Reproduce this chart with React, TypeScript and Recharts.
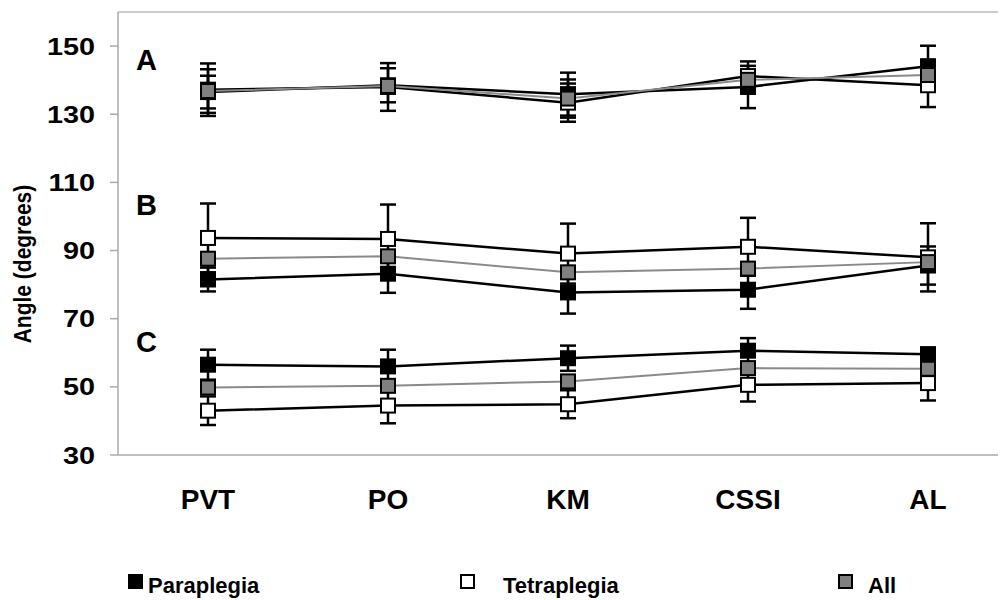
import { LineChart, Line, XAxis, YAxis, ErrorBar, ReferenceLine, ReferenceDot } from 'recharts'

const categories = ['PVT', 'PO', 'KM', 'CSSI', 'AL']

// panel A
const paraA = [136.5, 138.5, 135.9, 138.0, 144.1]
const paraAErr = [4.8, 5.0, 6.3, 6.2, 6.0]
const tetraA = [137.2, 138.0, 133.4, 141.2, 138.5]
const tetraAErr = [7.7, 7.0, 5.6, 4.3, 6.4]
const allA = [136.8, 138.3, 134.6, 140.1, 141.5]
const allAErr = [6.4, 0, 5.6, 0, 0]

// panel B
const paraB = [81.5, 83.2, 77.7, 78.5, 85.6]
const paraBErr = [3.5, 5.6, 6.2, 5.6, 5.6]
const tetraB = [93.7, 93.4, 89.1, 91.1, 88.0]
const tetraBErr = [10.1, 10.1, 8.8, 8.5, 10.0]
const allB = [87.6, 88.3, 83.6, 84.7, 86.6]

// panel C
const paraC = [56.5, 56.0, 58.4, 60.6, 59.6]
const paraCErr = [4.4, 4.9, 3.7, 3.7, 1.8]
const tetraC = [43.0, 44.5, 44.9, 50.6, 51.1]
const tetraCErr = [4.2, 5.2, 4.1, 4.9, 5.1]
const allC = [49.8, 50.3, 51.6, 55.5, 55.3]

const yTicks = [30, 50, 70, 90, 110, 130, 150]
const panelLabels = [{ text: 'A', y: 145.9 }, { text: 'B', y: 103.5 }, { text: 'C', y: 63.2 }]

const rows = categories.map((name, i) => ({
  name,
  paraA: paraA[i], paraAErr: paraAErr[i],
  tetraA: tetraA[i], tetraAErr: tetraAErr[i],
  allA: allA[i], allAErr: allAErr[i],
  paraB: paraB[i], paraBErr: paraBErr[i],
  tetraB: tetraB[i], tetraBErr: tetraBErr[i],
  allB: allB[i],
  paraC: paraC[i], paraCErr: paraCErr[i],
  tetraC: tetraC[i], tetraCErr: tetraCErr[i],
  allC: allC[i]
}))

const font = '"Liberation Sans", Arial, sans-serif'

const series = [
  { key: 'para', fill: '#000', line: '#000', width: 2.5 },
  { key: 'tetra', fill: '#fff', line: '#000', width: 2.5 },
  { key: 'all', fill: '#808080', line: '#8a8a8a', width: 2 }
]

const square = (fill: string) => (p: any) => (
  <rect key={`sq-${p.index}`} x={p.cx - 7} y={p.cy - 7} width={14} height={14} fill={fill} stroke="#000" strokeWidth={2} />
)

// the source picture is a bit stretched sideways, so the y labels are widened
const YTick = (p: any) => (
  <g transform={`translate(${p.x},${p.y}) scale(1.2,1)`}>
    <text x={0} y={0} dy="0.355em" textAnchor="end" fontSize={24} fontWeight="bold" fontFamily={font} fill="#000">
      {p.payload.value}
    </text>
  </g>
)

const legend = [
  { label: 'Paraplegia', fill: '#000', box: 120, text: 140 },
  { label: 'Tetraplegia', fill: '#fff', box: 452, text: 495 },
  { label: 'All', fill: '#808080', box: 830, text: 860 }
]

export default function App () {
  return (
    <div style={{ position: 'relative', width: 998, height: 592, overflow: 'hidden', fontFamily: font }}>
      <LineChart width={1010} height={592} data={rows} margin={{ top: 4, right: 0, bottom: 85, left: 0 }}>
        <XAxis
          dataKey="name"
          padding={{ left: 90, right: 90 }}
          tickLine={false}
          axisLine={{ stroke: '#aaa', strokeWidth: 1.5 }}
          height={60}
          interval={0}
          tickMargin={28}
          tick={{ fontSize: 28, fontWeight: 'bold', fill: '#000', fontFamily: font }}
        />
        <YAxis
          domain={[30, 160]}
          ticks={yTicks}
          width={110}
          tickSize={8}
          tickMargin={15}
          axisLine={{ stroke: '#aaa', strokeWidth: 1.5 }}
          tickLine={{ stroke: '#aaa', strokeWidth: 1.5 }}
          tick={YTick}
          label={{
            content: () => (
              <g transform="translate(15,256) scale(1.15,1) rotate(-90)">
                <text x={0} y={0} textAnchor="middle" dominantBaseline="central"
                  fontSize={21} fontWeight="bold" fontFamily={font} fill="#000">Angle (degrees)</text>
              </g>
            )
          }}
        />
        <ReferenceLine y={160} stroke="#bbb" strokeWidth={1.5} />
        {panelLabels.map(l => (
          <ReferenceDot key={l.text} x="PVT" y={l.y} r={0} stroke="none" fill="none"
            label={{ value: l.text, position: 'left', offset: 51, fontSize: 29, fontWeight: 'bold', fill: '#000', fontFamily: font }} />
        ))}
        {['A', 'B', 'C'].flatMap(g => series.map(s => {
          const key = s.key + g
          const hasErr = (rows[0] as any)[key + 'Err'] !== undefined
          return (
            <Line key={key} dataKey={key} stroke={s.line} strokeWidth={s.width} dot={square(s.fill)}
              activeDot={false} isAnimationActive={false}>
              {hasErr && <ErrorBar dataKey={key + 'Err'} direction="y" width={8} stroke="#000" strokeWidth={2.5} />}
            </Line>
          )
        }))}
      </LineChart>
      {legend.map(l => (
        <div key={l.label}>
          <div style={{ position: 'absolute', left: l.box, top: 566, width: 11, height: 11, background: l.fill, border: '2px solid #000' }} />
          <div style={{ position: 'absolute', left: l.text, top: 567, fontSize: 22, lineHeight: '22px', fontWeight: 'bold', whiteSpace: 'nowrap' }}>{l.label}</div>
        </div>
      ))}
    </div>
  )
}
